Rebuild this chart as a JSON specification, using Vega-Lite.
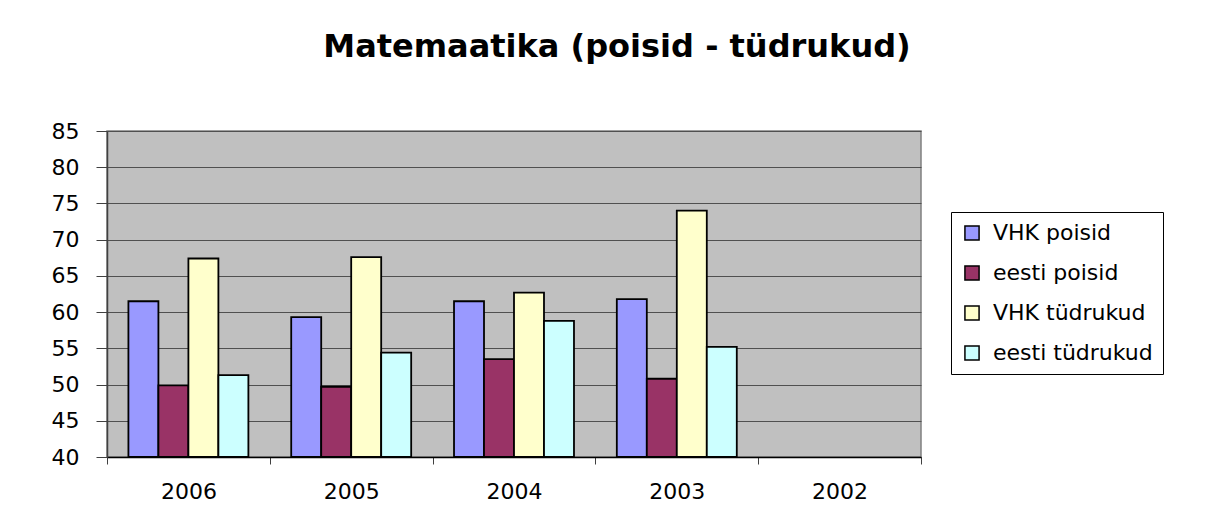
{
  "$schema": "https://vega.github.io/schema/vega-lite/v6.json",
  "width": 814,
  "height": 326,
  "autosize": "none",
  "padding": {"left": 107, "top": 131, "right": 290, "bottom": 72},
  "background": "white",
  "title": {
    "text": "Matemaatika (poisid - tüdrukud)",
    "font": "DejaVu Sans",
    "fontSize": 32,
    "fontWeight": "bold",
    "color": "black",
    "anchor": "middle",
    "baseline": "alphabetic",
    "dx": 103,
    "offset": 31
  },
  "data": {
    "values": [
      {"aasta": "2006", "seeria": "VHK poisid", "tulemus": 61.5},
      {"aasta": "2006", "seeria": "eesti poisid", "tulemus": 49.9},
      {"aasta": "2006", "seeria": "VHK tüdrukud", "tulemus": 67.4},
      {"aasta": "2006", "seeria": "eesti tüdrukud", "tulemus": 51.3},
      {"aasta": "2005", "seeria": "VHK poisid", "tulemus": 59.3},
      {"aasta": "2005", "seeria": "eesti poisid", "tulemus": 49.7},
      {"aasta": "2005", "seeria": "VHK tüdrukud", "tulemus": 67.6},
      {"aasta": "2005", "seeria": "eesti tüdrukud", "tulemus": 54.4},
      {"aasta": "2004", "seeria": "VHK poisid", "tulemus": 61.5},
      {"aasta": "2004", "seeria": "eesti poisid", "tulemus": 53.5},
      {"aasta": "2004", "seeria": "VHK tüdrukud", "tulemus": 62.7},
      {"aasta": "2004", "seeria": "eesti tüdrukud", "tulemus": 58.8},
      {"aasta": "2003", "seeria": "VHK poisid", "tulemus": 61.8},
      {"aasta": "2003", "seeria": "eesti poisid", "tulemus": 50.8},
      {"aasta": "2003", "seeria": "VHK tüdrukud", "tulemus": 74.0},
      {"aasta": "2003", "seeria": "eesti tüdrukud", "tulemus": 55.2}
    ]
  },
  "mark": {"type": "bar", "stroke": "black", "strokeWidth": 1.8, "clip": true},
  "encoding": {
    "x": {
      "field": "aasta",
      "type": "nominal",
      "scale": {"domain": ["2006", "2005", "2004", "2003", "2002"], "paddingInner": 0, "paddingOuter": 0},
      "axis": {
        "title": null,
        "labelAngle": 0,
        "labelFont": "DejaVu Sans",
        "labelFontSize": 22,
        "labelColor": "black",
        "labelPadding": 17,
        "tickBand": "extent",
        "tickSize": 7,
        "tickColor": "#404040",
        "tickWidth": 1,
        "domainColor": "black",
        "domainWidth": 1.5,
        "grid": false
      }
    },
    "xOffset": {
      "field": "seeria",
      "type": "nominal",
      "scale": {"domain": ["VHK poisid", "eesti poisid", "VHK tüdrukud", "eesti tüdrukud"], "paddingInner": 0, "paddingOuter": 0.714}
    },
    "y": {
      "field": "tulemus",
      "type": "quantitative",
      "stack": null,
      "scale": {"domain": [40, 85], "zero": false, "nice": false},
      "axis": {
        "title": null,
        "values": [40, 45, 50, 55, 60, 65, 70, 75, 80, 85],
        "labelFont": "DejaVu Sans",
        "labelFontSize": 22,
        "labelColor": "black",
        "labelPadding": 17,
        "tickSize": 11,
        "tickColor": "#404040",
        "tickWidth": 1,
        "domainColor": "#404040",
        "domainWidth": 1.5,
        "grid": true,
        "gridColor": "#505050",
        "gridWidth": 1.2,
        "gridOpacity": 1
      }
    },
    "y2": {"datum": 40},
    "color": {
      "field": "seeria",
      "type": "nominal",
      "scale": {
        "domain": ["VHK poisid", "eesti poisid", "VHK tüdrukud", "eesti tüdrukud"],
        "range": ["#9999FF", "#993366", "#FFFFCC", "#CCFFFF"]
      },
      "legend": {
        "title": null,
        "orient": "none",
        "legendX": 844,
        "legendY": 81,
        "labelFont": "DejaVu Sans",
        "labelFontSize": 22,
        "labelColor": "black",
        "labelLimit": 400,
        "symbolType": "square",
        "symbolSize": 200,
        "symbolStrokeColor": "black",
        "symbolStrokeWidth": 1.5,
        "symbolOpacity": 1,
        "rowPadding": 18,
        "labelOffset": 10,
        "padding": 10,
        "strokeColor": "black",
        "fillColor": "white"
      }
    }
  },
  "config": {
    "view": {"fill": "#C0C0C0", "stroke": "#808080", "strokeWidth": 1.5}
  }
}
